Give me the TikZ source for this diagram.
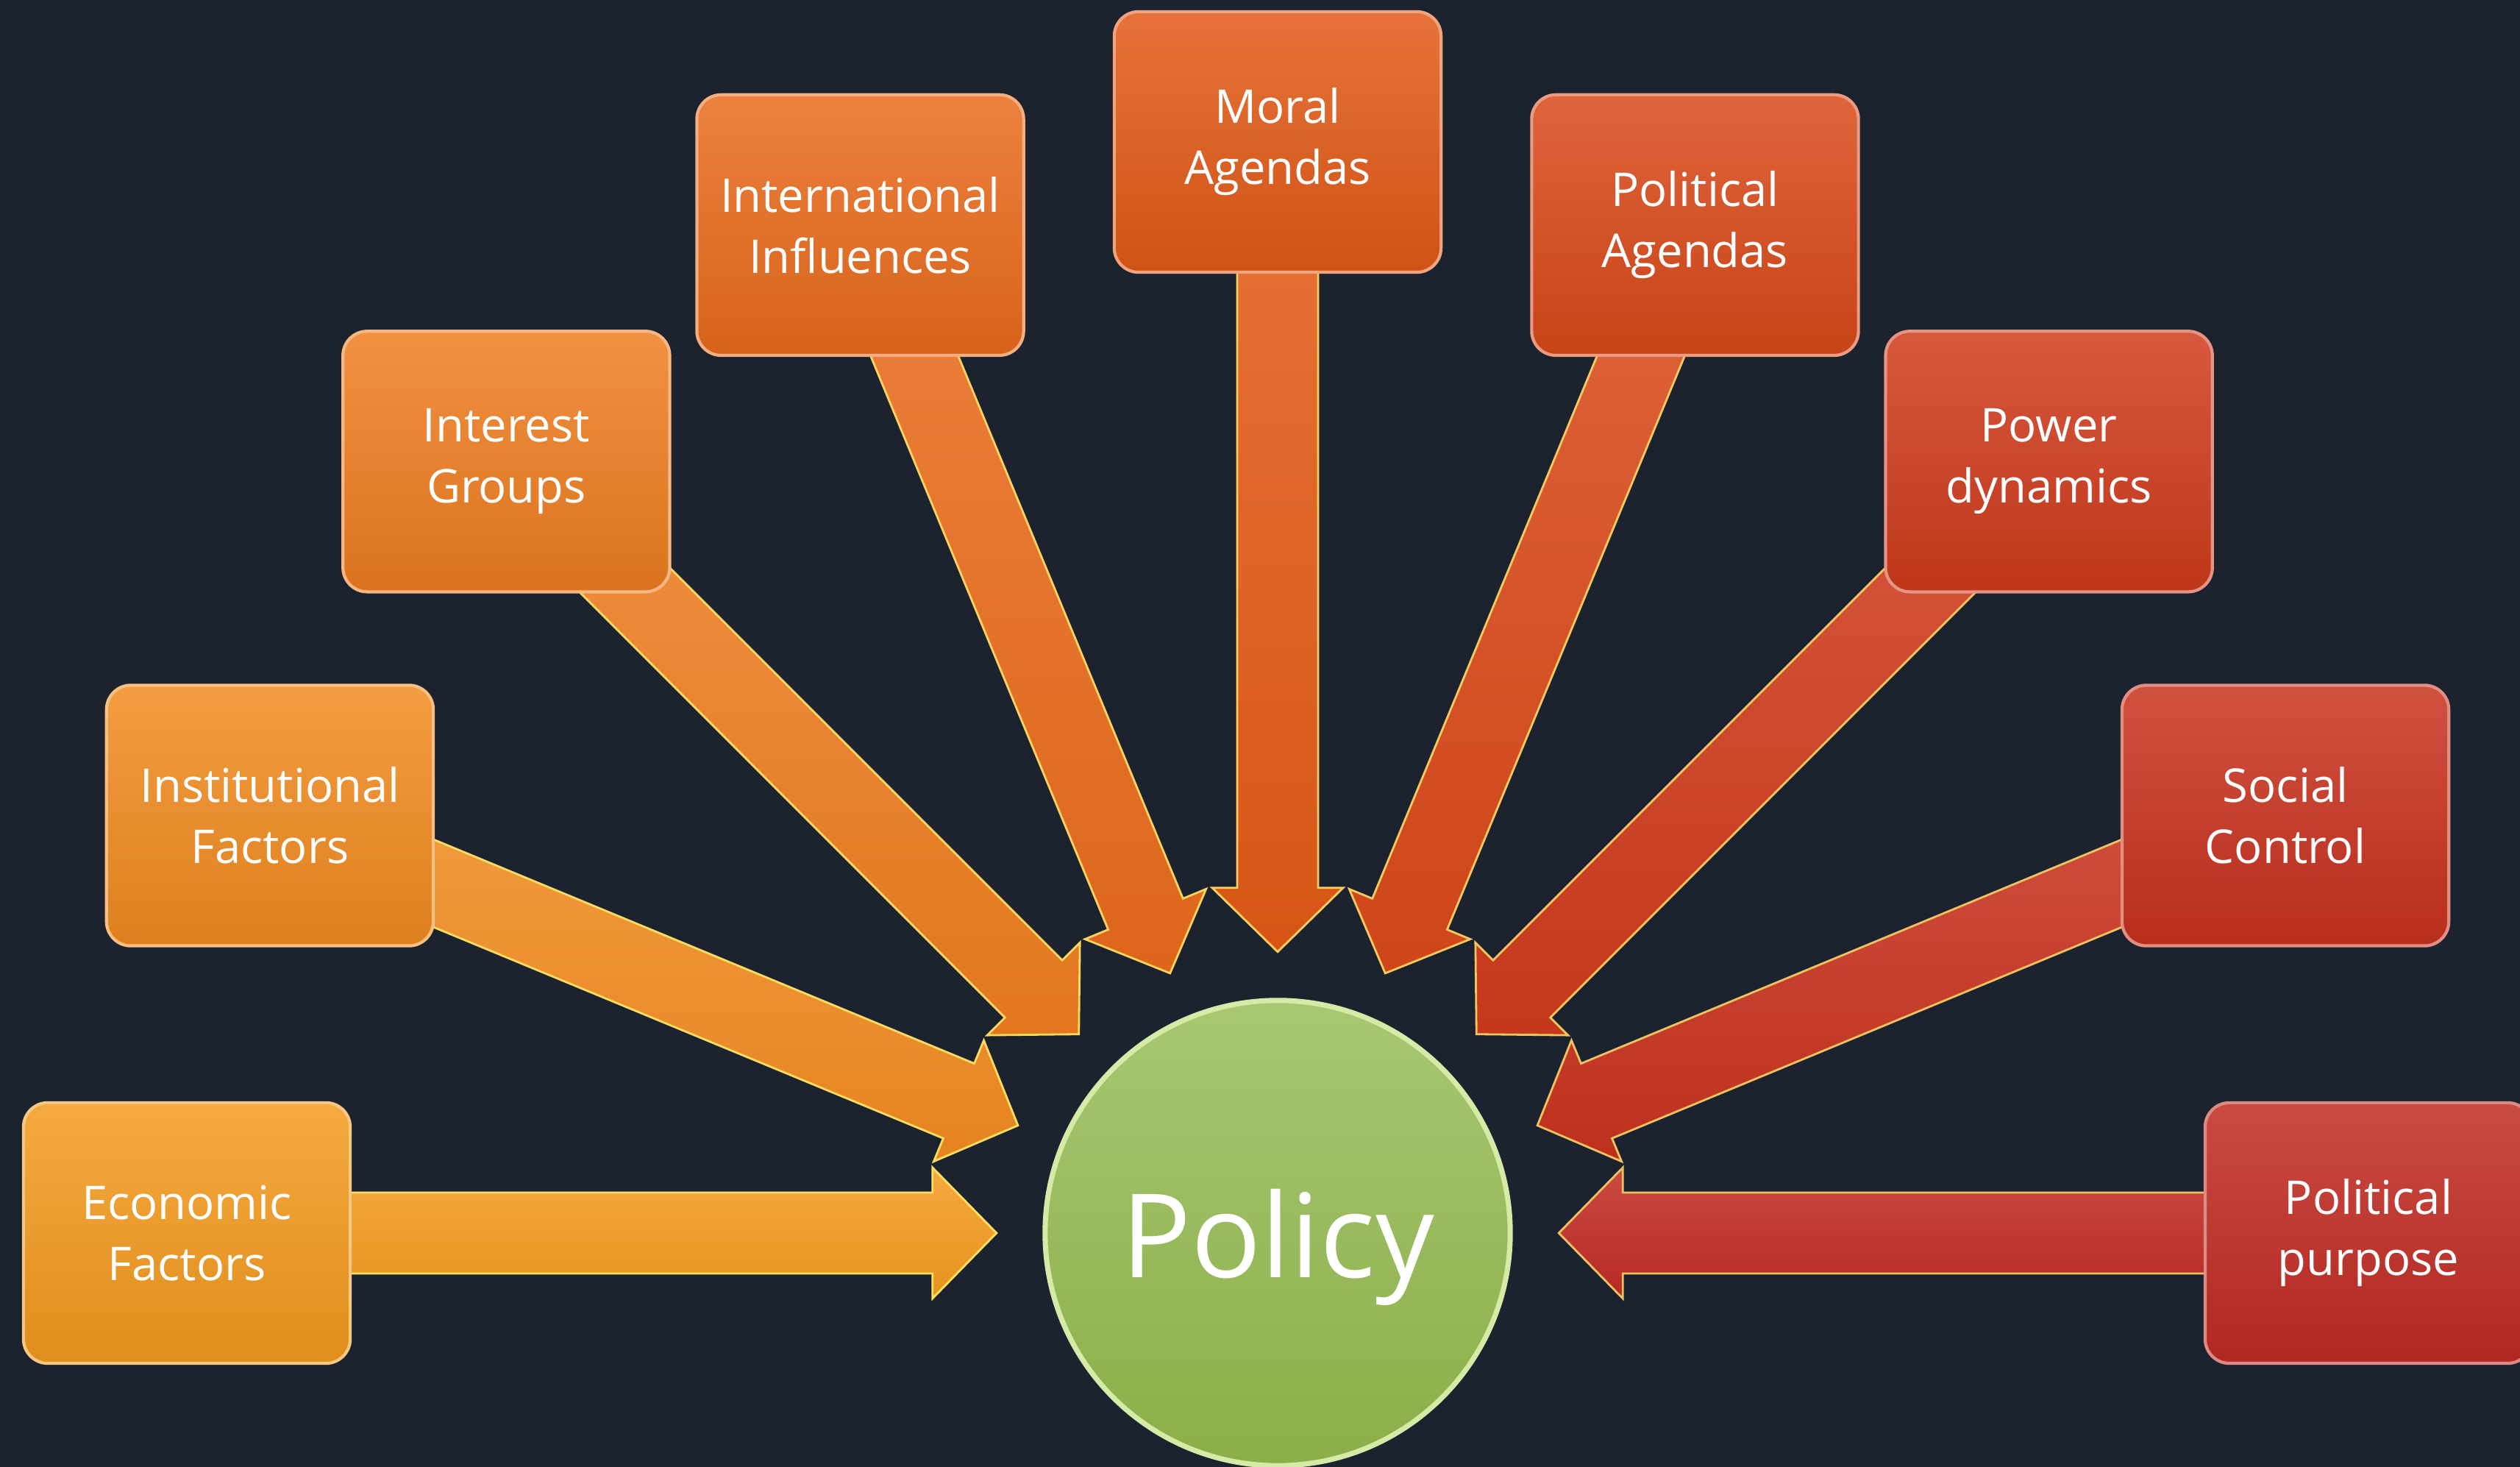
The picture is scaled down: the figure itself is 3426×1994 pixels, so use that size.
\documentclass[tikz,border=0pt]{standalone}
\usepackage{fontspec}
\setmainfont{Open Sans}
\usetikzlibrary{calc}
\definecolor{bg}{RGB}{28,35,46}
\definecolor{c1}{HTML}{F39A1E}
\definecolor{c2}{HTML}{F18B20}
\definecolor{c3}{HTML}{EE7D20}
\definecolor{c4}{HTML}{E96B1C}
\definecolor{c5}{HTML}{E25A17}
\definecolor{c6}{HTML}{D9491A}
\definecolor{c7}{HTML}{CF3B1C}
\definecolor{c8}{HTML}{C8321F}
\definecolor{c9}{HTML}{C02B22}
\definecolor{gtop}{HTML}{A7C772}
\definecolor{gbot}{HTML}{8BAE48}
\definecolor{gedge}{HTML}{D4EAA6}
\pgfdeclarelayer{back}
\pgfdeclarelayer{arrowlayer}
\pgfsetlayers{back,arrowlayer,main}
\newcommand\factorarrow[2]{%
  \coordinate (h) at ($(p.center)!4.69cm!(#1.center)$);
  \coordinate (t) at ($(p.center)!3.82cm!(#1.center)$);
  \path[blockarrow=#2]
    ($(#1.center)!0.55cm!90:(p.center)$) -- ($(h)!0.55cm!90:(p.center)$)
    -- ($(h)!0.89cm!90:(p.center)$) -- (t)
    -- ($(h)!0.89cm!-90:(p.center)$) -- ($(h)!0.55cm!-90:(p.center)$)
    -- ($(#1.center)!0.55cm!-90:(p.center)$) -- cycle;}
\begin{document}
\begin{tikzpicture}[x=0.01cm,y=0.01cm,
  factor/.style={rounded corners=0.33cm, minimum width=4.44cm, minimum height=3.54cm,
    text width=4.3cm, align=center, text=white, inner sep=0pt,
    font=\fontsize{18}{23.6}\selectfont,
    top color=#1!85!white, bottom color=#1!92!black, draw=#1!55!white, line width=1.2pt},
  blockarrow/.style={top color=#1!85!white, bottom color=#1!95!black,
    draw=#1!45!yellow!65!white, line width=0.8pt, line join=miter},
  policy/.style={circle, minimum size=6.32cm, inner sep=0pt, text=white, text depth=0pt,
    font=\fontsize{45}{54}\selectfont, top color=gtop, bottom color=gbot,
    draw=gedge, line width=2pt}]
\useasboundingbox (0,0) rectangle (3426,1994);
\begin{pgfonlayer}{back}
\fill[bg] (0,0) rectangle (3426,1994);
\end{pgfonlayer}
\node[policy] (p) at (1737,318) {Policy};
\node[factor=c1] (e1) at ($(p.center)+(180:1483)$) {Economic\\Factors};
\node[factor=c2] (e2) at ($(p.center)+(157.5:1483)$) {Institutional\\Factors};
\node[factor=c3] (e3) at ($(p.center)+(135:1483)$) {Interest\\Groups};
\node[factor=c4] (e4) at ($(p.center)+(112.5:1483)$) {International\\Influences};
\node[factor=c5] (e5) at ($(p.center)+(90:1483)$) {Moral\\Agendas};
\node[factor=c6] (e6) at ($(p.center)+(67.5:1483)$) {Political\\Agendas};
\node[factor=c7] (e7) at ($(p.center)+(45:1483)$) {Power\\dynamics};
\node[factor=c8] (e8) at ($(p.center)+(22.5:1483)$) {Social\\Control};
\node[factor=c9] (e9) at ($(p.center)+(0:1483)$) {Political\\purpose};
\begin{pgfonlayer}{arrowlayer}
\factorarrow{e1}{c1}
\factorarrow{e2}{c2}
\factorarrow{e3}{c3}
\factorarrow{e4}{c4}
\factorarrow{e5}{c5}
\factorarrow{e6}{c6}
\factorarrow{e7}{c7}
\factorarrow{e8}{c8}
\factorarrow{e9}{c9}
\end{pgfonlayer}
\end{tikzpicture}
\end{document}
